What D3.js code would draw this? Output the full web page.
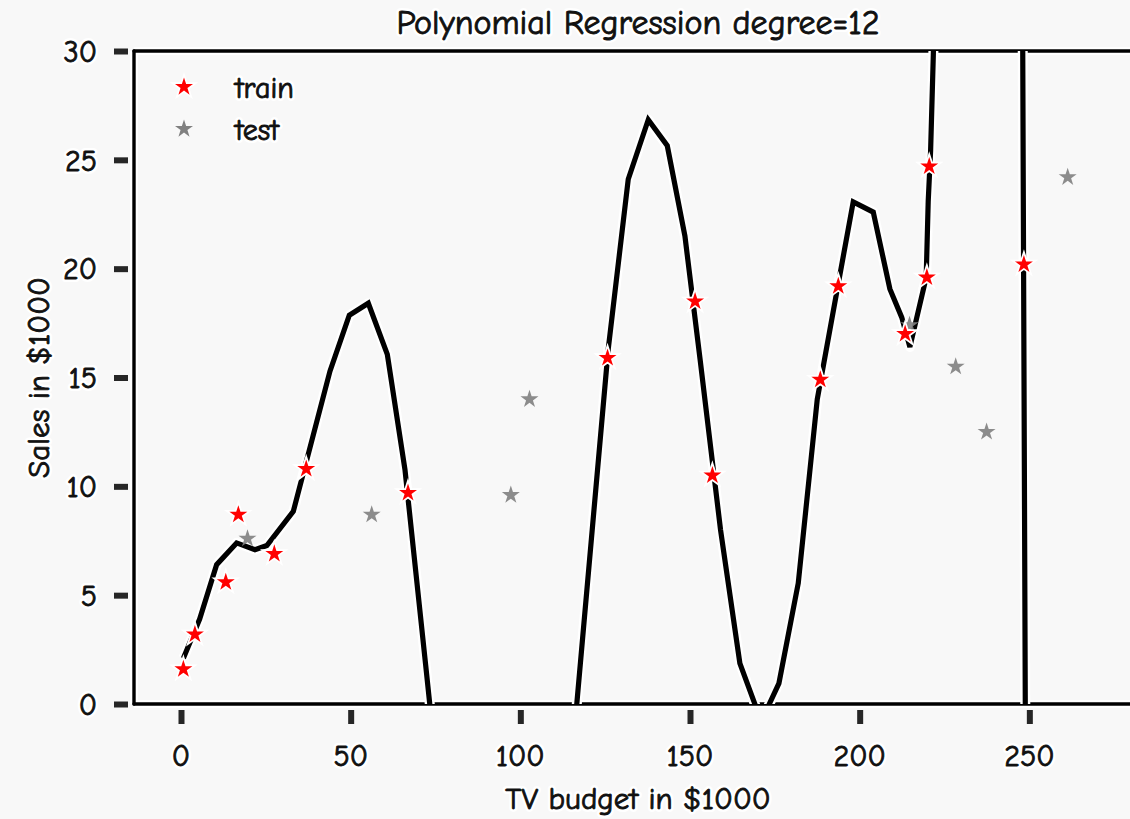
<!DOCTYPE html>
<html>
<head>
<meta charset="utf-8">
<script src="https://cdn.jsdelivr.net/npm/d3@7"></script>
<style>
  html, body { margin: 0; padding: 0; background: #f8f8f8; }
  svg { display: block; }
  text { font-family: "Humor Sans", "Comic Neue", Lato, sans-serif; }
  text.halo { fill: #111; stroke: #ffffff; stroke-width: 6px; stroke-linejoin: round; }
  text.ink  { fill: #111; stroke: #111; stroke-width: 0.9px; stroke-linejoin: round; }
</style>
</head>
<body>
<svg id="chart" width="1130" height="819"></svg>
<script>
// Advertising data: TV budget vs sales (both in $1000)
const trainTV    = [0.7, 4.1, 13.2, 16.9, 27.5, 36.9, 66.9, 125.7, 151.5, 156.6, 188.4, 193.7, 213.4, 219.8, 220.5, 248.4];
const trainSales = [1.6, 3.2, 5.6, 8.7, 6.9, 10.8, 9.7, 15.9, 18.5, 10.5, 14.9, 19.2, 17.0, 19.6, 24.7, 20.2];

const testTV    = [19.6, 56.2, 97.2, 102.7, 214.7, 228.3, 237.4, 261.3];
const testSales = [7.6, 8.7, 9.6, 14.0, 17.4, 15.5, 12.5, 24.2];

// Degree-12 polynomial fit evaluated along the TV axis
const fitTV = [0.7, 5.5, 10.5, 16.4, 21.8, 25.3, 33.1, 43.9, 49.6, 55.2, 60.8, 66.0, 72.1,
               77.7, 85, 95, 105, 110, 114.7, 125.9, 131.8, 137.7, 143.3, 148.5, 153.0, 159.0,
               164.7, 171.0, 176.2, 181.9, 187.5, 193.1, 198.1, 204.0, 208.9, 212.4, 214.8,
               219.6, 220.2, 220.9, 221.7, 224, 232, 240, 245, 251];
const fitSales = [2.1, 3.9, 6.4, 7.4, 7.09, 7.28, 8.85, 15.29, 17.86, 18.41, 16.06, 10.77, 1.79,
                  -6.5, -15, -20, -15, -9, -3.4, 16.3, 24.11, 26.84, 25.65, 21.5, 15.8, 8.0,
                  1.87, -0.8, 0.95, 5.55, 14.0, 18.8, 23.07, 22.6, 19.07, 17.76, 16.4,
                  19.6, 23.1, 25.4, 29.8, 45, 100, 140, 152.2, -87.8];

const xTicks = [0, 50, 100, 150, 200, 250];
const yTicks = [0, 5, 10, 15, 20, 25, 30];

const titleText = "Polynomial Regression degree=12";
const xLabel = "TV budget in $1000";
const yLabel = "Sales in $1000";

const svg = d3.select("#chart");
const plotL = 134, plotR = 1142, plotT = 51, plotB = 704;

const x = d3.scaleLinear().domain([-13.85, 283.2]).range([plotL, plotR]);
const y = d3.scaleLinear().domain([0, 30]).range([plotB, plotT]);

svg.append("rect").attr("width", 1130).attr("height", 819).attr("fill", "#f8f8f8");

svg.append("defs").append("clipPath").attr("id", "plotArea")
  .append("rect").attr("x", plotL).attr("y", plotT).attr("width", plotR - plotL).attr("height", plotB - plotT);

// text with a white halo underneath the ink
function label(parent, txt, attrs) {
  const g = parent.append("g");
  ["halo", "ink"].forEach(cls => {
    const t = g.append("text").attr("class", cls).text(txt);
    Object.entries(attrs).forEach(([k, v]) => t.attr(k, v));
  });
  return g;
}

// ticks: thick dark dashes outside the frame
const tickColor = "#262626";
const xAxis = d3.axisBottom(x).tickValues(xTicks).tickSize(14).tickFormat("");
const gx = svg.append("g").attr("transform", `translate(0,${plotB + 6})`).call(xAxis);
gx.select(".domain").remove();
gx.selectAll(".tick line").attr("stroke", tickColor).attr("stroke-width", 6);
xTicks.forEach(v => label(svg, d3.format("d")(v), {
  x: x(v), y: 766, "text-anchor": "middle", "font-size": 30 }));

const yAxis = d3.axisLeft(y).tickValues(yTicks).tickSize(14).tickFormat("");
const gy = svg.append("g").attr("transform", `translate(${plotL - 6},0)`).call(yAxis);
gy.select(".domain").remove();
gy.selectAll(".tick line").attr("stroke", tickColor).attr("stroke-width", 6);
yTicks.forEach(v => label(svg, d3.format("d")(v), {
  x: 97, y: y(v), dy: "0.36em", "text-anchor": "end", "font-size": 30 }));

// frame: black spines with a white halo
const frame = [[plotL, plotT, plotR, plotT], [plotL, plotB, plotR, plotB], [plotL, plotT, plotL, plotB], [plotR, plotT, plotR, plotB]];
frame.forEach(([x1, y1, x2, y2]) => {
  svg.append("line").attr("x1", x1).attr("y1", y1).attr("x2", x2).attr("y2", y2)
    .attr("stroke", "#ffffff").attr("stroke-width", 8);
});
frame.forEach(([x1, y1, x2, y2]) => {
  svg.append("line").attr("x1", x1).attr("y1", y1).attr("x2", x2).attr("y2", y2)
    .attr("stroke", "#000").attr("stroke-width", 3.4).attr("stroke-linecap", "round");
});

const plot = svg.append("g").attr("clip-path", "url(#plotArea)");

// fitted curve
const fitData = fitTV.map((t, i) => [t, fitSales[i]]);
const line = d3.line().x(d => x(d[0])).y(d => y(d[1]));
plot.append("path").datum(fitData).attr("d", line)
  .attr("fill", "none").attr("stroke", "#ffffff").attr("stroke-width", 10).attr("stroke-linejoin", "round");
plot.append("path").datum(fitData).attr("d", line)
  .attr("fill", "none").attr("stroke", "#000").attr("stroke-width", 5.2).attr("stroke-linejoin", "miter");

const star = d3.symbol().type(d3.symbolStar).size(100);

// test points
plot.selectAll(".test").data(testTV.map((t, i) => [t, testSales[i]])).join("path")
  .attr("class", "test")
  .attr("d", star)
  .attr("transform", d => `translate(${x(d[0])},${y(d[1])})`)
  .attr("fill", "#808080").attr("fill-opacity", 0.9);

// train points
plot.selectAll(".train").data(trainTV.map((t, i) => [t, trainSales[i]])).join("path")
  .attr("class", "train")
  .attr("d", star)
  .attr("transform", d => `translate(${x(d[0])},${y(d[1])})`)
  .attr("fill", "#ff0000").attr("stroke", "#ffffff").attr("stroke-width", 3.5).attr("paint-order", "stroke");

// legend
const legend = svg.append("g");
const legendItems = [{ label: "train", color: "#ff0000", halo: true }, { label: "test", color: "#808080", halo: false }];
legendItems.forEach((d, i) => {
  const cy = 87 + i * 42;
  legend.append("path").attr("d", star).attr("transform", `translate(184,${cy})`)
    .attr("fill", d.color).attr("stroke", d.halo ? "#fff" : "none").attr("stroke-width", 3.5).attr("paint-order", "stroke");
  label(legend, d.label, { x: 235, y: cy, dy: "0.35em", "font-size": 30 });
});

// title and axis labels
label(svg, titleText, { x: (plotL + plotR) / 2, y: 34, "text-anchor": "middle", "font-size": 34 });
label(svg, xLabel, { x: (plotL + plotR) / 2, y: 809, "text-anchor": "middle", "font-size": 31 });
label(svg, yLabel, { transform: `translate(49,${(plotT + plotB) / 2}) rotate(-90)`, "text-anchor": "middle", "font-size": 31 });
</script>
</body>
</html>
